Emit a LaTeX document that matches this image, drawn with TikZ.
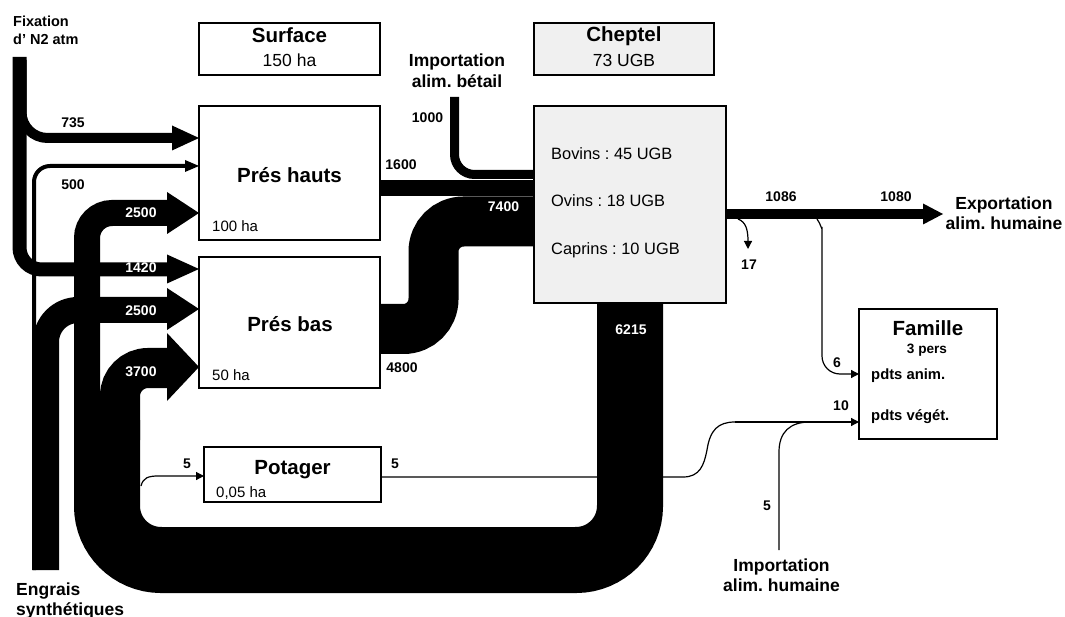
\documentclass[tikz,border=0pt]{standalone}
\usepackage{fontspec}
\setmainfont{Liberation Sans}
\usetikzlibrary{arrows.meta}
\definecolor{chgray}{HTML}{F0F0F0}
\newcommand\fsz[1]{\fontsize{#1}{#1}\selectfont}
\newcommand\arrowhd[4]{\fill ({#1-#3},{#2-#4}) -- (#1,#2) -- ({#1-#3},{#2+#4}) -- cycle;}
\frenchspacing
\begin{document}
\begin{tikzpicture}[x=1pt,y=-1pt,
  band/.style={draw=black,line cap=butt},
  thinflow/.style={line width=1.2pt,-{Triangle[length=8pt,width=8pt]}},
  thinline/.style={line width=1.2pt},
  box/.style={draw=black,line width=1.3pt,fill=white,inner sep=0pt},
  gbox/.style={box,fill=chgray},
  num/.style={font=\fsz{14}\bfseries,anchor=base,inner sep=0pt},
  wnum/.style={num,text=white},
  title/.style={font=\fsz{20.5}\bfseries,anchor=base,inner sep=0pt},
  sub/.style={font=\fsz{17.5},anchor=base,inner sep=0pt},
  area/.style={font=\fsz{15},anchor=base west,inner sep=0pt},
  ext/.style={font=\fsz{17.5}\bfseries,anchor=base,inner sep=0pt},
  herd/.style={font=\fsz{16.4},anchor=base west,inner sep=0pt},
  fam/.style={font=\fsz{14.8}\bfseries,anchor=base west,inner sep=0pt}]
\useasboundingbox (0,0) rectangle (1065,617);

% ---------- Fixation d'N2 atm ----------
\draw[band,line width=14pt,rounded corners=22pt] (19.5,57) |- (167,269.5);
\draw[band,line width=10pt,rounded corners=26pt] (21.5,60) |- (172,138);
\arrowhd{199}{138}{27}{12.5}
\arrowhd{199}{269}{32}{14.5}

% ---------- Engrais synthetiques ----------
\draw[band,line width=4pt,rounded corners=16pt] (34,570) |- (186,166);
\arrowhd{199}{166}{14}{6}
\draw[band,line width=26pt,rounded corners=32pt] (46,570) |- (167,310);
\arrowhd{199}{309}{32}{21}

% ---------- Potager flows (thin) ----------
\draw[thinline] (381,477) -- (683,477) .. controls (700,477) and (704,465) .. (707,450)
  .. controls (710,430) and (718,422) .. (735,422);
\draw[thinline] (779,550) -- (779,452) .. controls (779,432) and (790,422) .. (810,422);
\draw[thinflow] (735,422) -- (859,422);
\draw[thinflow] (141,486) .. controls (143,478) and (148,476) .. (158,476) -- (204,476);

% ---------- Big return band 6215 ----------
\draw[band,line width=66pt,rounded corners=54pt] (630,300) |- (107,560) -- (107,420);
\draw[band,line width=26pt,rounded corners=25pt] (87,440) |- (167,213);
\arrowhd{199}{213}{32}{21}
\draw[band,line width=40pt,rounded corners=28pt] (120,440) |- (167,368);
\arrowhd{199}{367}{32}{34}

% ---------- Inflows to Cheptel ----------
\draw[band,line width=16pt] (380,188) -- (534,188);
\draw[band,line width=9pt,rounded corners=20pt] (454.5,97) |- (534,174.5);
\draw[band,line width=50pt,rounded corners=30pt] (380,329) -| (433.5,221.5) -- (534,221.5);

% ---------- Outflows from Cheptel ----------
\draw[band,line width=10pt] (726,214) -- (923,214);
\arrowhd{943}{214}{20}{10.5}
\draw[thinflow] (738,219) .. controls (746,222) and (748,230) .. (748,249);
\draw[thinflow,rounded corners=18pt] (817,219) .. controls (821,224) and (822,232) .. (822,245) |- (859,374);

% ---------- Boxes ----------
\node[box,minimum width=181pt,minimum height=52pt] (surf) at (289.5,49) {};
\node[gbox,minimum width=180pt,minimum height=52pt] (chhead) at (624,49) {};
\node[box,minimum width=181pt,minimum height=134pt] (ph) at (289.5,173) {};
\node[box,minimum width=181pt,minimum height=131pt] (pb) at (289.5,322.5) {};
\node[box,minimum width=177pt,minimum height=55pt] (pot) at (292.5,474.5) {};
\node[gbox,minimum width=192pt,minimum height=197pt] (chep) at (630,204.5) {};
\node[box,minimum width=138pt,minimum height=130pt] (fam) at (928,374) {};

% ---------- Box texts ----------
\node[title] (tsurf) at (289.5,43) {Surface};
\node[sub] (ssurf) at (289.5,67) {150 ha};
\node[title] (tchep) at (624,42) {Cheptel};
\node[sub] (schep) at (624,67) {73 UGB};
\node[title] (tph) at (289.5,183) {Prés hauts};
\node[area] (aph) at (212,232) {100 ha};
\node[title] (tpb) at (290,332) {Prés bas};
\node[area] (apb) at (212,380) {50 ha};
\node[title] (tpot) at (292.5,474) {Potager};
\node[area] (apot) at (216,497) {0,05 ha};
\node[herd] (bov) at (551,160) {Bovins : 45 UGB};
\node[herd] (ovi) at (551,207) {Ovins : 18 UGB};
\node[herd] (cap) at (551,255) {Caprins : 10 UGB};
\node[title] (tfam) at (928,336) {Famille};
\node[font=\fsz{13.6}\bfseries,anchor=base,inner sep=0pt] (sfam) at (927,353) {3 pers};
\node[fam] (anim) at (871,379) {pdts anim.};
\node[fam] (veg) at (871,420) {pdts végét.};

% ---------- External labels ----------
\node[font=\fsz{14.5}\bfseries,anchor=base west,inner sep=0pt] (fix1) at (13,27) {Fixation};
\node[font=\fsz{14.5}\bfseries,anchor=base west,inner sep=0pt] (fix2) at (13,45) {d’ N2 atm};
\node[ext] (imp1) at (457,67) {Importation};
\node[ext] (imp2) at (457,88) {alim. bétail};
\node[ext] (exp1) at (1004,210) {Exportation};
\node[ext] (exp2) at (1004,230) {alim. humaine};
\node[ext] (ih1) at (781.5,571) {Importation};
\node[ext] (ih2) at (781.5,591) {alim. humaine};
\node[ext,anchor=base west] (eng1) at (16,595) {Engrais};
\node[ext,anchor=base west] (eng2) at (16,615) {synthétiques};

% ---------- Flow numbers ----------
\node[num] (n735) at (73,128) {735};
\node[num] (n500) at (73,190) {500};
\node[wnum] (n2500a) at (141,218) {2500};
\node[wnum] (n1420) at (141,273) {1420};
\node[wnum] (n2500b) at (141,316) {2500};
\node[wnum] (n3700) at (141,376) {3700};
\node[num] (n1600) at (401,170) {1600};
\node[num] (n1000) at (427.5,123) {1000};
\node[wnum] (n7400) at (503.5,212) {7400};
\node[num] (n4800) at (402,373) {4800};
\node[wnum] (n6215) at (631,335) {6215};
\node[num] (n5a) at (187,468) {5};
\node[num] (n5b) at (395,468) {5};
\node[num] (n1086) at (781,202) {1086};
\node[num] (n1080) at (896,202) {1080};
\node[num] (n17) at (749,270) {17};
\node[num] (n6) at (837,367) {6};
\node[num] (n10) at (841,410) {10};
\node[num] (n5c) at (767,510) {5};
\end{tikzpicture}
\end{document}
